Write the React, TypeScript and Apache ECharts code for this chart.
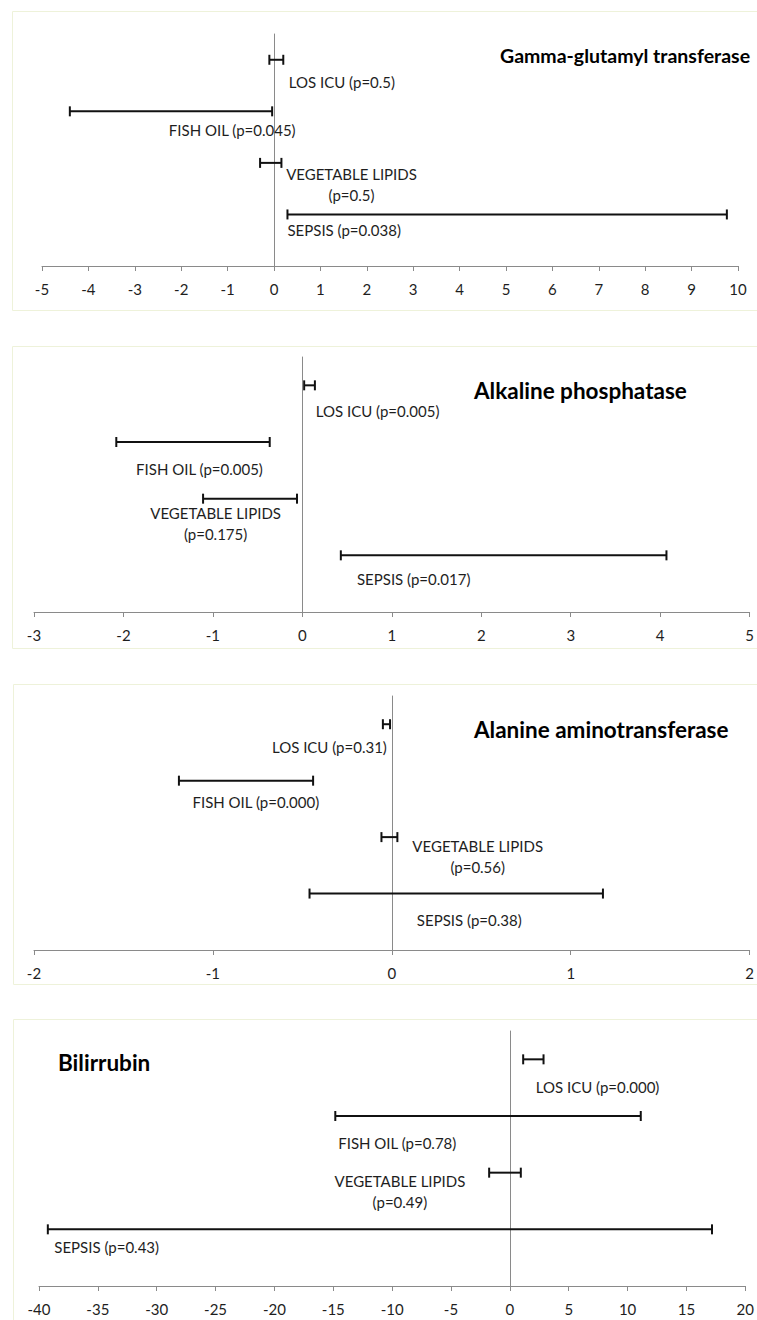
import React, { useEffect, useRef } from "react";
import * as echarts from "echarts";

// ---- data ----
const rowNames = ["LOS ICU", "FISH OIL", "VEGETABLE LIPIDS", "SEPSIS"];
const rowPos = [4, 3, 2, 1];

const ggtLow = [-0.1, -4.4, -0.3, 0.29];
const ggtHigh = [0.2, -0.04, 0.16, 9.76];
const ggtP = ["0.5", "0.045", "0.5", "0.038"];

const alpLow = [0.02, -2.08, -1.11, 0.43];
const alpHigh = [0.14, -0.365, -0.06, 4.07];
const alpP = ["0.005", "0.005", "0.175", "0.017"];

const altLow = [-0.05, -1.19, -0.058, -0.46];
const altHigh = [-0.01, -0.44, 0.031, 1.18];
const altP = ["0.31", "0.000", "0.56", "0.38"];

const bilLow = [1.13, -14.83, -1.76, -39.25];
const bilHigh = [2.86, 11.12, 0.93, 17.17];
const bilP = ["0.000", "0.78", "0.49", "0.43"];

const titles = ["Gamma-glutamyl transferase", "Alkaline phosphatase", "Alanine aminotransferase", "Bilirrubin"];

const axisMin = [-5, -3, -2, -40];
const axisMax = [10, 5, 2, 20];
const axisStep = [1, 1, 1, 5];

// label anchors in data space: [x, y, align]
const ggtLabelAt: [number, number, string][] = [[0.32, 3.57, "left"], [-0.9, 2.64, "center"], [1.67, 1.59, "center"], [0.29, 0.7, "left"]];
const alpLabelAt: [number, number, string][] = [[0.15, 3.55, "left"], [-1.15, 2.52, "center"], [-0.97, 1.56, "center"], [0.61, 0.59, "left"]];
const altLabelAt: [number, number, string][] = [[-0.67, 3.6, "left"], [-0.76, 2.62, "center"], [0.48, 1.65, "center"], [0.14, 0.53, "left"]];
const bilLabelAt: [number, number, string][] = [[2.2, 3.52, "left"], [-14.58, 2.53, "left"], [-9.34, 1.67, "center"], [-38.7, 0.69, "left"]];

const panels = [
  { low: ggtLow, high: ggtHigh, p: ggtP, labelAt: ggtLabelAt },
  { low: alpLow, high: alpHigh, p: alpP, labelAt: alpLabelAt },
  { low: altLow, high: altHigh, p: altP, labelAt: altLabelAt },
  { low: bilLow, high: bilHigh, p: bilP, labelAt: bilLabelAt },
];

// ---- layout ----
const grids = [
  { left: 42, top: 34, width: 696, height: 232 },
  { left: 34, top: 357, width: 717, height: 255 },
  { left: 34, top: 696, width: 717, height: 254 },
  { left: 39, top: 1031, width: 707, height: 255 },
];
const frames = [
  { x: 12, y: 11, h: 299 },
  { x: 12, y: 346, h: 302 },
  { x: 13, y: 684, h: 300 },
  { x: 13, y: 1019, h: 320 },
];
const titleLayout = [
  { x: 500, y: 55, size: 19.5 },
  { x: 474, y: 390, size: 22.5 },
  { x: 474, y: 729, size: 22.5 },
  { x: 58, y: 1062, size: 22.5 },
];

const FONT = "Lato, 'Open Sans', sans-serif";
const AXIS_GREY = "#8a8a8a";
const TEXT = "#1e1e1e";

function labelText(i: number, p: string) {
  if (i === 2) return `${rowNames[i]}\n(p=${p})`;
  return `${rowNames[i]} (p=${p})`;
}

export default function App() {
  const ref = useRef<HTMLDivElement>(null);
  useEffect(() => {
    if (!ref.current) return;
    const chart = echarts.init(ref.current, undefined, { renderer: "svg" });

    const xAxis = panels.map((_, k) => ({
      type: "value",
      gridIndex: k,
      min: axisMin[k],
      max: axisMax[k],
      interval: axisStep[k],
      axisLine: { show: true, lineStyle: { color: AXIS_GREY, width: 1 } },
      axisTick: { show: true, length: 5, lineStyle: { color: AXIS_GREY } },
      axisLabel: { color: TEXT, fontSize: 15, fontFamily: FONT, margin: 15, showMinLabel: true, showMaxLabel: true, hideOverlap: false },
      splitLine: { show: false },
    }));
    const yAxis = panels.map((_, k) => ({
      type: "value",
      gridIndex: k,
      min: 0,
      max: 4.5,
      axisLine: { show: true, onZero: true, lineStyle: { color: AXIS_GREY, width: 1 } },
      axisTick: { show: false },
      axisLabel: { show: false },
      splitLine: { show: false },
    }));

    const series: any[] = [];
    panels.forEach((pn, k) => {
      series.push({
        type: "custom",
        xAxisIndex: k,
        yAxisIndex: k,
        data: rowPos.map((y, i) => [y, pn.low[i], pn.high[i]]),
        encode: { x: [1, 2], y: 0 },
        renderItem: (params: any, api: any) => {
          const y = api.value(0);
          const a = api.coord([api.value(1), y]);
          const b = api.coord([api.value(2), y]);
          const h = 5;
          const style = { stroke: "#111", lineWidth: 2 };
          return {
            type: "group",
            children: [
              { type: "line", shape: { x1: a[0], y1: a[1], x2: b[0], y2: b[1] }, style },
              { type: "line", shape: { x1: a[0], y1: a[1] - h, x2: a[0], y2: a[1] + h }, style },
              { type: "line", shape: { x1: b[0], y1: b[1] - h, x2: b[0], y2: b[1] + h }, style },
            ],
          };
        },
        z: 3,
      });
      series.push({
        type: "custom",
        xAxisIndex: k,
        yAxisIndex: k,
        data: pn.labelAt.map((l) => [l[0], l[1]]),
        encode: { x: 0, y: 1 },
        renderItem: (params: any, api: any) => {
          const i = params.dataIndex;
          const pt = api.coord([api.value(0), api.value(1)]);
          return {
            type: "text",
            x: pt[0],
            y: pt[1],
            style: {
              text: labelText(i, pn.p[i]),
              fill: TEXT,
              font: `15px ${FONT}`,
              align: pn.labelAt[i][2],
              verticalAlign: "middle",
              lineHeight: 21,
            },
          };
        },
        z: 4,
      });
    });

    const graphic: any[] = [];
    frames.forEach((f) => {
      graphic.push({
        type: "rect",
        shape: { x: f.x + 0.5, y: f.y + 0.5, width: 780, height: f.h },
        style: { fill: "none", stroke: "#eef2da", lineWidth: 1 },
        silent: true,
        z: 0,
      });
    });
    titles.forEach((t, k) => {
      graphic.push({
        type: "text",
        x: titleLayout[k].x,
        y: titleLayout[k].y,
        style: {
          text: t,
          fill: "#000",
          font: `bold ${titleLayout[k].size}px ${FONT}`,
          align: "left",
          verticalAlign: "middle",
        },
        z: 5,
      });
    });

    chart.setOption({
      animation: false,
      backgroundColor: "#fff",
      grid: grids.map((g) => ({ ...g, containLabel: false })),
      xAxis,
      yAxis,
      series,
      graphic,
    });
    return () => chart.dispose();
  }, []);
  return <div ref={ref} style={{ position: "absolute", left: 0, top: 0, width: 757, height: 1320 }} />;
}
